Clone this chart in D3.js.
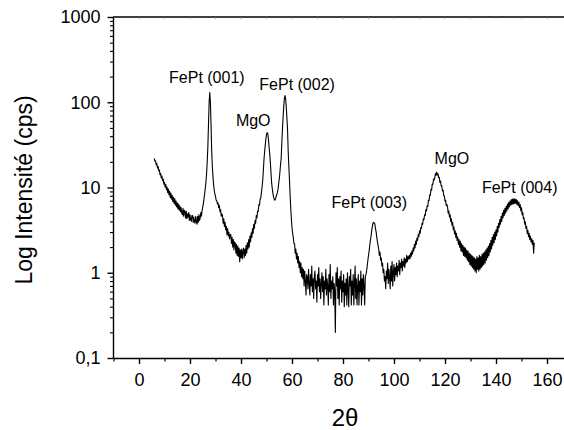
<!DOCTYPE html>
<html><head><meta charset="utf-8">
<script src="https://cdn.jsdelivr.net/npm/d3@7"></script>
<style>
body{margin:0;background:#fff}
svg{display:block}
text{font-family:"Liberation Sans",Arial,sans-serif;fill:#000}
</style>
</head><body>
<svg id="chart" width="564" height="430"></svg>
<script>
// XRD scan: 2θ from 6.00° in steps of 0.25°
const scanStart = 6.0;
const scanStep = 0.25;
const intensity = [
  // 6.00 – 10.75
  22.0, 20.3, 20.6, 18.4, 19.1, 16.9, 17.6, 15.6, 16.1, 14.0, 14.6, 12.9, 13.6, 12.0, 12.6, 10.9, 11.5, 10.1, 10.8, 9.4,
  // 11.00 – 15.75
  10.1, 8.7, 9.6, 8.2, 9.0, 7.6, 8.6, 7.3, 8.1, 6.8, 7.7, 6.5, 7.4, 6.2, 7.0, 5.9, 6.6, 5.6, 6.4, 5.4,
  // 16.00 – 20.75
  6.1, 5.2, 5.8, 5.0, 4.8, 5.7, 4.6, 5.4, 5.2, 4.4, 5.3, 4.3, 4.9, 4.5, 5.1, 4.1, 4.8, 4.2, 4.0, 4.7,
  // 21.00 – 25.75
  4.7, 3.9, 4.5, 4.0, 3.8, 4.6, 4.0, 3.7, 4.6, 3.9, 4.8, 4.1, 4.4, 5.1, 4.6, 5.4, 5.9, 6.5, 7.4, 8.5,
  // 26.00 – 30.75  FePt (001)
  9.8, 11.5, 14.5, 20, 30, 55, 100, 130, 100, 55, 27, 18, 13.5, 10.8, 9.3, 8.4, 7.9, 7.1, 7.0, 6.4,
  // 31.00 – 35.75
  6.6, 5.8, 6.2, 5.2, 5.5, 4.6, 4.9, 4.7, 3.8, 4.3, 3.5, 3.9, 3.2, 3.5, 2.8, 3.3, 2.7, 3.0, 2.5, 2.8,
  // 36.00 – 40.75
  2.8, 2.2, 2.6, 2.0, 2.45, 1.85, 2.3, 2.2, 1.7, 2.15, 1.6, 2.05, 1.55, 1.95, 1.35, 1.85, 1.5, 1.9, 1.45, 1.8,
  // 41.00 – 45.75
  1.95, 1.5, 1.9, 1.6, 2.1, 1.7, 2.25, 1.9, 2.45, 2.0, 2.7, 2.3, 2.95, 2.6, 3.3, 2.9, 3.7, 3.3, 4.1, 3.8,
  // 46.00 – 50.75  MgO
  4.7, 4.4, 5.3, 5.2, 6.3, 6.2, 7.3, 7.5, 8.7, 10, 12, 15.5, 21, 26, 31, 37, 42, 44, 43, 37,
  // 51.00 – 55.75
  30, 25, 20, 15, 11.5, 9.8, 8.6, 7.8, 7.3, 7.1, 7.3, 7.8, 8.2, 8.7, 9.5, 11, 12.5, 15, 18.5, 22,
  // 56.00 – 60.75  FePt (002)
  33, 48, 66, 88, 110, 120, 110, 88, 66, 48, 27, 18, 12.5, 8.3, 5.8, 4.3, 3.4, 2.9, 2.6, 2.2,
  // 61.00 – 65.75
  2.2, 1.7, 1.9, 1.45, 1.7, 1.3, 1.55, 1.15, 1.35, 1.0, 1.3, 0.9, 1.15, 0.85, 1.1, 0.7, 1.05, 0.8, 0.55, 0.95,
  // 66.00 – 70.75
  0.9, 0.65, 1.1, 0.75, 0.55, 0.95, 0.7, 1.2, 0.6, 0.85, 0.5, 0.9, 1.05, 0.65, 0.8, 0.45, 0.95, 0.7, 1.15, 0.6,
  // 71.00 – 75.75
  0.85, 0.5, 0.75, 1.0, 0.6, 0.9, 0.42, 0.8, 0.65, 1.1, 0.55, 0.85, 0.7, 0.42, 0.95, 0.6, 1.25, 0.5, 0.8, 0.65,
  // 76.00 – 80.75
  0.9, 0.42, 0.75, 0.6, 0.2, 1.0, 0.7, 1.15, 0.5, 0.85, 0.42, 0.9, 0.65, 1.05, 0.45, 0.8, 0.6, 0.95, 0.4, 0.75,
  // 81.00 – 85.75
  0.55, 0.85, 0.42, 1.0, 0.65, 0.4, 0.9, 0.7, 1.1, 0.42, 0.8, 0.55, 0.95, 0.42, 0.75, 1.2, 0.5, 0.85, 0.42, 0.7,
  // 86.00 – 90.75
  0.95, 0.42, 0.8, 0.6, 1.05, 0.42, 0.85, 0.55, 0.95, 0.7, 0.42, 0.9, 0.95, 1.05, 1.2, 1.4, 1.6, 1.8, 2.1, 2.4,
  // 91.00 – 95.75  FePt (003)
  2.7, 3.1, 3.5, 3.8, 3.9, 3.85, 3.7, 3.3, 3.0, 2.6, 2.3, 2.1, 1.9, 1.6, 1.75, 1.4, 1.5, 1.2, 1.3, 1.0,
  // 96.00 – 100.75
  1.1, 0.8, 0.9, 0.65, 1.05, 0.85, 1.3, 0.75, 1.1, 0.9, 0.65, 1.2, 0.8, 1.35, 0.7, 1.0, 1.25, 0.8, 1.15, 0.95,
  // 101.00 – 105.75
  1.3, 0.9, 1.2, 1.05, 1.4, 0.95, 1.3, 1.15, 1.45, 1.05, 1.35, 1.2, 1.5, 1.15, 1.45, 1.3, 1.6, 1.35, 1.55, 1.45,
  // 106.00 – 110.75
  1.6, 1.45, 1.7, 1.55, 1.8, 1.65, 1.95, 1.8, 2.15, 1.95, 2.35, 2.15, 2.55, 2.4, 2.8, 2.65, 3.1, 2.9, 3.4, 3.3,
  // 111.00 – 115.75  MgO
  3.8, 3.7, 4.3, 4.2, 4.8, 4.7, 5.5, 5.3, 6.1, 6.0, 7.1, 7.0, 8.2, 8.1, 9.5, 9.3, 11.0, 10.9, 12.6, 12.3,
  // 116.00 – 120.75
  13.0, 14.6, 13.9, 15.2, 14.0, 14.5, 13.0, 13.2, 11.5, 11.9, 10.4, 10.5, 9.1, 9.3, 8.0, 8.0, 6.9, 7.1, 6.1, 6.3,
  // 121.00 – 125.75
  5.9, 5.0, 5.3, 4.5, 4.8, 4.0, 4.3, 3.6, 3.9, 3.2, 3.45, 2.85, 3.1, 2.6, 2.9, 2.4, 2.6, 2.15, 2.45, 2.0,
  // 126.00 – 130.75
  2.35, 1.8, 2.2, 1.75, 2.1, 1.6, 2.0, 1.55, 1.95, 1.5, 1.85, 1.4, 1.8, 1.35, 1.7, 1.25, 1.65, 1.2, 1.6, 1.15,
  // 131.00 – 135.75
  1.55, 1.1, 1.5, 1.05, 1.45, 1.0, 1.55, 1.1, 1.5, 1.05, 1.6, 1.1, 1.55, 1.15, 1.65, 1.2, 1.7, 1.25, 1.75, 1.3,
  // 136.00 – 140.75
  1.85, 1.4, 1.95, 1.5, 2.05, 1.6, 2.2, 1.75, 2.4, 1.9, 2.6, 2.1, 2.8, 2.25, 3.0, 2.45, 3.2, 2.7, 3.5, 3.0,
  // 141.00 – 145.75  FePt (004)
  3.8, 3.4, 4.2, 3.7, 4.6, 4.0, 5.0, 4.4, 5.4, 4.7, 5.7, 5.0, 6.0, 5.3, 6.4, 5.6, 6.7, 5.9, 7.0, 6.2,
  // 146.00 – 150.75
  7.2, 6.3, 7.3, 6.4, 7.4, 6.5, 7.3, 6.5, 7.2, 6.3, 7.0, 6.1, 6.7, 5.8, 6.3, 5.3, 5.8, 4.8, 5.1, 4.3,
  // 151.00 – 155.00
  4.4, 3.7, 3.95, 3.3, 3.5, 2.9, 3.15, 2.65, 2.9, 2.45, 2.7, 2.3, 2.5, 2.15, 2.4, 1.7, 2.25
];

const xMajorTicks = [0, 20, 40, 60, 80, 100, 120, 140, 160];
const xMinorTicks = [-10, 10, 30, 50, 70, 90, 110, 130, 150, 170];
const yMajorTicks = [0.1, 1, 10, 100, 1000];
const yTickLabels = ["0,1", "1", "10", "100", "1000"];

const peakNames = ["FePt (001)", "MgO", "FePt (002)", "FePt (003)", "MgO", "FePt (004)"];
const peakLabelAngle = [26.6, 44.8, 62.0, 90.3, 122.7, 149.3];
const peakLabelIntensity = [170, 52.6, 139, 5.73, 19.1, 8.6];

const xTitle = "2θ";
const yTitle = "Log Intensité (cps)";

// ---------- drawing ----------
const FONT = "'Liberation Sans', Arial, sans-serif";
const svg = d3.select("#chart");
const plotLeft = 113, plotTop = 17, plotBottom = 358;
const x = d3.scaleLinear().domain([-10, 170]).range([113.5, 572.5]);
const y = d3.scaleLog().domain([0.1, 1000]).range([plotBottom, plotTop]);

// minor y ticks (2..9 of each decade)
const yMinor = [];
[0.1, 1, 10, 100].forEach(dec => { for (let k = 2; k <= 9; k++) yMinor.push(dec * k); });

// top frame line with tiny ticks
svg.append("line").attr("x1", plotLeft).attr("x2", 564).attr("y1", plotTop).attr("y2", plotTop)
  .attr("stroke", "#000").attr("stroke-width", 1.6);
svg.append("g").selectAll("line").data(d3.range(0, 171, 10)).join("line")
  .attr("x1", d => x(d)).attr("x2", d => x(d)).attr("y1", plotTop).attr("y2", plotTop + 2)
  .attr("stroke", "#888").attr("stroke-width", 0.8);

// bottom axis
const gx = svg.append("g").attr("transform", `translate(0,${plotBottom})`);
gx.call(d3.axisBottom(x).tickValues(xMajorTicks).tickSize(6).tickSizeOuter(0).tickPadding(9)
  .tickFormat(d3.format("d")));
gx.attr("font-family", FONT);
gx.selectAll("text").attr("font-size", 18);
gx.selectAll(".tick line, .domain").attr("stroke-width", 1.4);
const gxm = svg.append("g").attr("transform", `translate(0,${plotBottom})`);
gxm.call(d3.axisBottom(x).tickValues(xMinorTicks).tickSize(3.5).tickSizeOuter(0).tickFormat(""));
gxm.select(".domain").remove();
gxm.selectAll(".tick line").attr("stroke-width", 1.2);

// left axis
const gy = svg.append("g").attr("transform", `translate(${plotLeft},0)`);
gy.call(d3.axisLeft(y).tickValues(yMajorTicks).tickSize(5.5).tickSizeOuter(0).tickPadding(7)
  .tickFormat((d, i) => yTickLabels[i]));
gy.attr("font-family", FONT);
gy.selectAll("text").attr("font-size", 18);
gy.selectAll(".tick line, .domain").attr("stroke-width", 1.4);
const gym = svg.append("g").attr("transform", `translate(${plotLeft},0)`);
gym.call(d3.axisLeft(y).tickValues(yMinor).tickSize(3).tickSizeOuter(0).tickFormat(""));
gym.select(".domain").remove();
gym.selectAll(".tick line").attr("stroke-width", 1.1);

// data line
const line = d3.line()
  .x((d, i) => x(scanStart + i * scanStep))
  .y(d => y(d));
svg.append("path").datum(intensity)
  .attr("d", line).attr("fill", "none").attr("stroke", "#000")
  .attr("stroke-width", 1.1).attr("stroke-linejoin", "round");

// peak labels
svg.append("g").attr("font-family", FONT).selectAll("text").data(peakNames).join("text")
  .attr("x", (d, i) => x(peakLabelAngle[i]))
  .attr("y", (d, i) => y(peakLabelIntensity[i]))
  .attr("text-anchor", "middle").attr("font-size", 16)
  .text(d => d);

// axis titles
svg.append("text").attr("x", 345).attr("y", 426).attr("text-anchor", "middle")
  .attr("font-family", FONT).attr("font-size", 24).text(xTitle);
svg.append("text").attr("transform", "translate(32,190) rotate(-90)")
  .attr("text-anchor", "middle").attr("font-family", FONT).attr("font-size", 23).text(yTitle);
</script>
</body></html>
